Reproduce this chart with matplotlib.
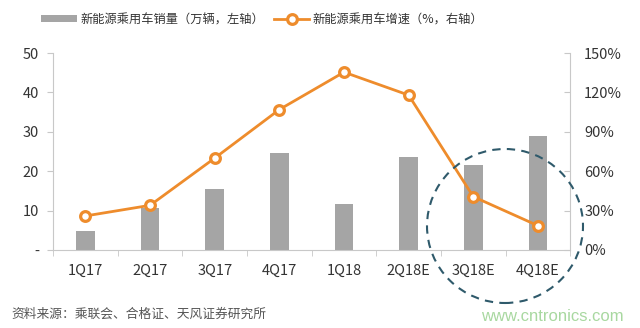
import matplotlib
matplotlib.use('Agg')
import matplotlib.pyplot as plt
from matplotlib.patches import Ellipse
from matplotlib.ticker import FuncFormatter, FixedLocator

plt.rcParams['font.family'] = ['Noto Sans CJK SC', 'DejaVu Sans']

quarters = ['1Q17', '2Q17', '3Q17', '4Q17', '1Q18', '2Q18E', '3Q18E', '4Q18E']
sales = [4.8, 10.7, 15.5, 24.6, 11.7, 23.7, 21.6, 28.9]      # 万辆
growth = [25.9, 34.0, 70.0, 107.0, 135.5, 118.0, 40.6, 18.5]  # %

bar_color = '#A5A5A5'
line_color = '#EE8C2C'
axis_color = '#C8C8C8'
text_color = '#333333'

fig = plt.figure(figsize=(6.4, 3.28), dpi=100)
ax = fig.add_axes([0.083, 0.238, 0.808, 0.600])
ax2 = ax.twinx()

x = list(range(len(quarters)))
bars = ax.bar(x, sales, width=0.29, color=bar_color, zorder=2,
              label='新能源乘用车销量（万辆，左轴）')
line, = ax2.plot(x, growth, color=line_color, linewidth=2.0, marker='o',
                 markersize=7, markerfacecolor='white', markeredgecolor=line_color,
                 markeredgewidth=2.3, zorder=3, label='新能源乘用车增速（%，右轴）')

ax.set_xlim(-0.5, 7.5)
ax.set_ylim(0, 50)
ax2.set_ylim(0, 150)
ax.set_yticks([0, 10, 20, 30, 40, 50])
ax.yaxis.set_major_formatter(FuncFormatter(lambda v, p: '-' if v == 0 else '%d' % v))
ax2.set_yticks([0, 30, 60, 90, 120, 150])
ax2.yaxis.set_major_formatter(FuncFormatter(lambda v, p: '%d%%' % v))

ax.set_xticks(x)
ax.set_xticklabels(quarters)
ax.xaxis.set_minor_locator(FixedLocator([i - 0.5 for i in range(9)]))
ax.tick_params(axis='x', which='major', length=0, pad=10, labelsize=10.5, labelcolor=text_color)
ax.tick_params(axis='x', which='minor', length=4, color=axis_color, direction='out')
ax.tick_params(axis='y', length=4, color=axis_color, labelsize=10.5, labelcolor=text_color, pad=6)
ax2.tick_params(axis='y', length=4, color=axis_color, direction='in',
                labelsize=10.5, labelcolor=text_color, pad=10)

for a in (ax, ax2):
    a.spines['top'].set_visible(False)
    for s in ('left', 'right', 'bottom'):
        a.spines[s].set_color(axis_color)
ax.spines['right'].set_visible(False)
ax2.spines['left'].set_visible(False)
ax2.spines['bottom'].set_visible(False)

fig.legend(handles=[bars, line], loc='center', bbox_to_anchor=(0.41, 0.94), ncol=2,
           frameon=False, fontsize=8.8, handlelength=2.9, handleheight=0.5,
           columnspacing=0.8, handletextpad=0.3, labelcolor=text_color)

# dashed highlight circle around the estimates
fig.patches.append(Ellipse((505 / 640, 1 - 226 / 328), 156 / 640, 154 / 328,
                           transform=fig.transFigure, fill=False, edgecolor='#2F5A6B',
                           linestyle=(0, (4, 3)), linewidth=1.5, zorder=5))

fig.text(0.018, 0.03, '资料来源：乘联会、合格证、天风证券研究所', fontsize=9.2, color='#555555')
fig.text(0.975, 0.02, 'www.cntronics.com', fontsize=12, color='#A8D8A0', ha='right',
         family=['Liberation Sans', 'DejaVu Sans'])

fig.savefig('out.png', dpi=100)
